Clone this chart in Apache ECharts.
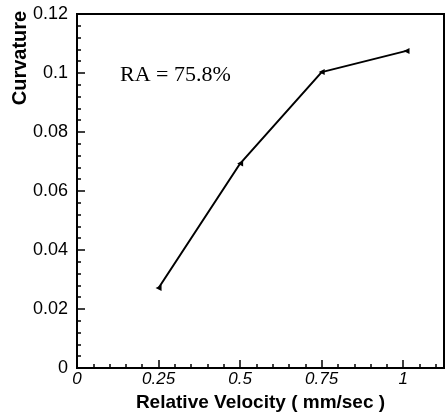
<!DOCTYPE html>
<html>
<head>
<meta charset="utf-8">
<script src="https://cdn.jsdelivr.net/npm/echarts@6/dist/echarts.min.js"></script>
<style>
  html,body{margin:0;padding:0;background:#fff;}
  #chart{width:448px;height:413px;}
</style>
</head>
<body>
<div id="chart"></div>
<script>
"use strict";

// relative velocity (mm/sec) vs curvature
var velocity=[0.25,0.5,0.75,1.01];
var curvature=[0.0271,0.0693,0.1003,0.1075];
var xTicks=[0,0.25,0.5,0.75,1];
var yTicks=[0,0.02,0.04,0.06,0.08,0.1,0.12];
var annotation='RA = 75.8%';

var sans='"Liberation Sans", Arial, sans-serif';

var points=velocity.map(function(v,i){ return [v,curvature[i]]; });

var chart=echarts.init(document.getElementById('chart'),null,{renderer:'canvas'});
chart.setOption({
  animation:false,
  backgroundColor:'#fff',
  grid:{
    left:77, right:4, top:14, bottom:45,
    containLabel:false, outerBoundsMode:'none',
    show:true, borderColor:'#000', borderWidth:2, backgroundColor:'transparent'
  },
  xAxis:{
    type:'value',
    min:xTicks[0], max:1.125, interval:0.25,
    name:'Relative Velocity ( mm/sec )',
    nameLocation:'middle', nameGap:22,
    nameTextStyle:{fontFamily:sans,fontWeight:'bold',fontSize:19,color:'#000'},
    axisLine:{lineStyle:{color:'#000',width:2}},
    axisTick:{inside:true,length:8,lineStyle:{color:'#000',width:1.5}},
    minorTick:{show:true,splitNumber:5,length:4,lineStyle:{color:'#000',width:1.5}},
    splitLine:{show:false},
    axisLabel:{
      color:'#000', fontFamily:sans, fontSize:17, fontStyle:'italic', margin:3,
      showMaxLabel:false,
      formatter:function(v){ return xTicks.indexOf(v)>=0 ? String(v) : ''; }
    }
  },
  yAxis:{
    type:'value',
    min:yTicks[0], max:yTicks[yTicks.length-1], interval:0.02,
    axisLine:{lineStyle:{color:'#000',width:2}},
    axisTick:{inside:true,length:8,lineStyle:{color:'#000',width:1.5}},
    minorTick:{show:true,splitNumber:5,length:4,lineStyle:{color:'#000',width:1.5}},
    splitLine:{show:false},
    axisLabel:{color:'#000',fontFamily:sans,fontSize:18,margin:9,
      formatter:function(v){ return String(+v.toFixed(2)); }}
  },
  series:[{
    type:'line',
    data:points,
    symbol:'triangle',
    symbolSize:6,
    symbolRotate:90,
    itemStyle:{color:'#000'},
    lineStyle:{color:'#000',width:2}
  }],
  graphic:[{
    type:'text',
    left:120, top:64,
    style:{text:annotation,font:'22px "Liberation Serif", "Times New Roman", serif',fill:'#000'}
  },{
    // y axis title sits near the top of the axis in the original
    type:'text',
    x:20, y:58, rotation:Math.PI/2,
    style:{text:'Curvature',font:'bold 20px "Liberation Sans", Arial, sans-serif',
      fill:'#000',align:'center',verticalAlign:'middle'}
  }]
});
</script>
</body>
</html>
